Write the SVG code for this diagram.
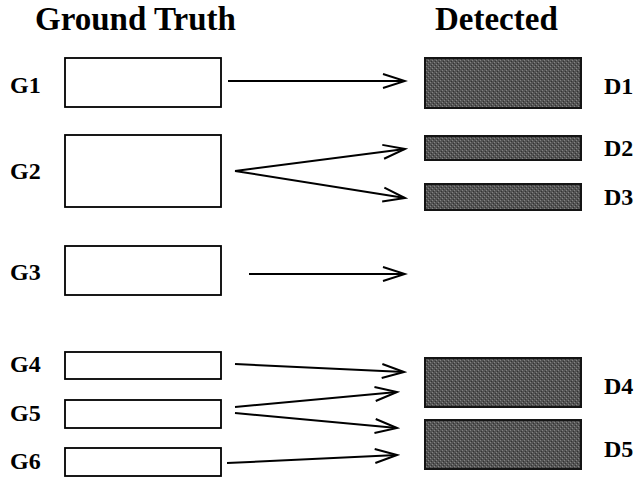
<svg xmlns="http://www.w3.org/2000/svg" width="643" height="478" viewBox="0 0 643 478">
  <style>
    .title { font-family: "Liberation Serif", "Times New Roman", serif; font-weight: bold; font-size: 33px; fill: #000; }
    .lbl { font-family: "Liberation Serif", "Times New Roman", serif; font-weight: bold; font-size: 24px; fill: #000; }
    .gt { fill: #fff; stroke: #000; stroke-width: 1.8; }
    .det { fill: url(#stipple); stroke: #141414; stroke-width: 2; }
    .conn line { stroke: #000; stroke-width: 2; fill: none; marker-end: url(#open); }
  </style>
  <defs>
    <!-- halftone-like grey fill for detected regions -->
    <pattern id="stipple" width="4" height="4" patternUnits="userSpaceOnUse">
      <rect width="4" height="4" fill="#545454"/>
      <rect x="0" y="0" width="1" height="1" fill="#838383"/>
      <rect x="2" y="2" width="1" height="1" fill="#838383"/>
      <rect x="1" y="3" width="1" height="1" fill="#333"/>
      <rect x="3" y="1" width="1" height="1" fill="#333"/>
    </pattern>
    <marker id="open" markerUnits="userSpaceOnUse" markerWidth="26" markerHeight="18" refX="23" refY="9" orient="auto">
      <path d="M1,2 L23,9 L1,16" fill="none" stroke="#000" stroke-width="2"/>
    </marker>
  </defs>

  <text class="title" x="35" y="30">Ground Truth</text>
  <text class="title" x="435" y="30">Detected</text>

  <!-- ground truth regions -->
  <g id="G1"><rect class="gt" x="65" y="58" width="156" height="49"/><text class="lbl" x="10" y="93">G1</text></g>
  <g id="G2"><rect class="gt" x="65" y="135" width="156" height="72"/><text class="lbl" x="10" y="179">G2</text></g>
  <g id="G3"><rect class="gt" x="65" y="246" width="156" height="49"/><text class="lbl" x="10" y="280">G3</text></g>
  <g id="G4"><rect class="gt" x="65" y="352" width="156" height="27"/><text class="lbl" x="10" y="372">G4</text></g>
  <g id="G5"><rect class="gt" x="65" y="400" width="156" height="28"/><text class="lbl" x="10" y="421">G5</text></g>
  <g id="G6"><rect class="gt" x="65" y="448" width="156" height="28"/><text class="lbl" x="10" y="469">G6</text></g>

  <!-- detected regions -->
  <g id="D1"><rect class="det" x="425" y="58" width="156" height="50"/><text class="lbl" x="604" y="94">D1</text></g>
  <g id="D2"><rect class="det" x="425" y="136" width="156" height="24"/><text class="lbl" x="604" y="156">D2</text></g>
  <g id="D3"><rect class="det" x="425" y="184" width="156" height="26"/><text class="lbl" x="604" y="205">D3</text></g>
  <g id="D4"><rect class="det" x="425" y="358" width="156" height="49"/><text class="lbl" x="604" y="394">D4</text></g>
  <g id="D5"><rect class="det" x="425" y="420" width="156" height="49"/><text class="lbl" x="604" y="457">D5</text></g>

  <!-- correspondences -->
  <g class="conn" id="connectors">
    <line x1="228" y1="81" x2="405" y2="81"/>
    <line x1="235" y1="171" x2="405" y2="149"/>
    <line x1="235" y1="171" x2="405" y2="198"/>
    <line x1="249" y1="274" x2="405" y2="274"/>
    <line x1="235" y1="364" x2="404" y2="372"/>
    <line x1="235" y1="407" x2="397" y2="392"/>
    <line x1="235" y1="413" x2="397" y2="428"/>
    <line x1="227" y1="463" x2="397" y2="455"/>
  </g>
</svg>
